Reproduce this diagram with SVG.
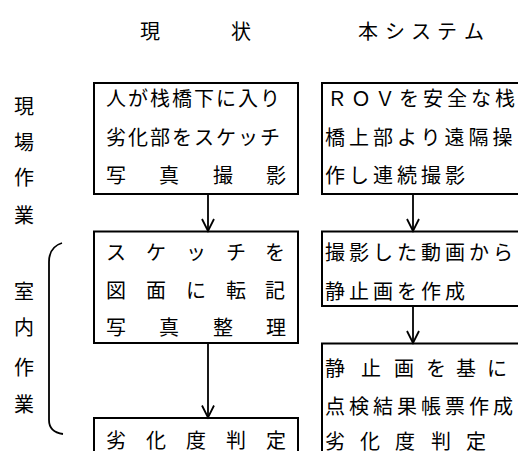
<svg xmlns="http://www.w3.org/2000/svg" width="519" height="451" viewBox="0 0 519 451">
<style>
.t{font-family:"Noto Sans CJK JP","Noto Sans CJK SC",sans-serif;font-size:20px;fill:#000;dominant-baseline:central}
.l{letter-spacing:2px}
.r{letter-spacing:4px}
.b{fill:none;stroke:#000;stroke-width:2}
.c{fill:none;stroke:#000;stroke-width:1.8}
</style>
<defs>
<marker id="ah" markerUnits="userSpaceOnUse" viewBox="-14 -8 16 16" refX="0" refY="0" markerWidth="16" markerHeight="16" orient="auto" overflow="visible">
<path d="M-12,-6 L0,0 L-12,6" fill="none" stroke="#000" stroke-width="1.8"/>
</marker>
</defs>
<rect width="519" height="451" fill="#fff"/>
<g id="headers">
<text class="t" x="140 231" y="30">現状</text>
<text class="t" x="358 385 411 437 464" y="30">本システム</text>
</g>
<g id="label-field">
<text class="t" x="14" y="105">現</text>
<text class="t" x="14" y="141">場</text>
<text class="t" x="14" y="176">作</text>
<text class="t" x="14" y="214">業</text>
</g>
<g id="label-office">
<path class="c" d="M62,243 Q49,247 49,262 V420 Q49,432 63,434"/>
<text class="t" x="14" y="290">室</text>
<text class="t" x="14" y="326">内</text>
<text class="t" x="14" y="366">作</text>
<text class="t" x="14" y="403">業</text>
</g>
<g id="L1">
<rect class="b" x="94" y="83" width="204" height="111"/>
<text class="t l" x="106" y="97.5">人が栈橋下に入り</text>
<text class="t l" x="106" y="136">劣化部をスケッチ</text>
<text class="t" x="106 159 213 266" y="174">写真撮影</text>
</g>
<g id="L2">
<rect class="b" x="94" y="231.5" width="204" height="111.5"/>
<text class="t" x="106 146 186 226 265" y="251">スケッチを</text>
<text class="t" x="106 146 186 226 265" y="289">図面に転記</text>
<text class="t" x="106 159 213 266" y="326">写真整理</text>
</g>
<g id="L3">
<path class="b" d="M94,453 V418 H298 V453"/>
<text class="t" x="106 146 186 226 266" y="439">劣化度判定</text>
</g>
<g id="R1">
<path class="b" d="M518,83 H322 V194 H518"/>
<text class="t" x="327 351 375 399 423 447 471 495" y="97.5">ＲＯＶを安全な栈</text>
<text class="t r" x="325" y="136">橋上部より遠隔操</text>
<text class="t r" x="325" y="174">作し連続撮影</text>
</g>
<g id="R2">
<path class="b" d="M518,231.5 H322 V306 H518"/>
<text class="t r" x="325" y="251">撮影した動画から</text>
<text class="t r" x="325" y="290">静止画を作成</text>
</g>
<g id="R3">
<path class="b" d="M518,343.5 H322 V453"/>
<text class="t" x="325 361 394 426 456 487" y="367">静止画を基に</text>
<text class="t r" x="325" y="405">点検結果帳票作成</text>
<text class="t" x="325 360 395 431 466" y="440">劣化度判定</text>
</g>
<g id="connectors">
<path class="c" d="M208,194 V231" marker-end="url(#ah)"/>
<path class="c" d="M208,343 V417.5" marker-end="url(#ah)"/>
<path class="c" d="M413,194 V231" marker-end="url(#ah)"/>
<path class="c" d="M413,306 V343" marker-end="url(#ah)"/>
</g>
</svg>
